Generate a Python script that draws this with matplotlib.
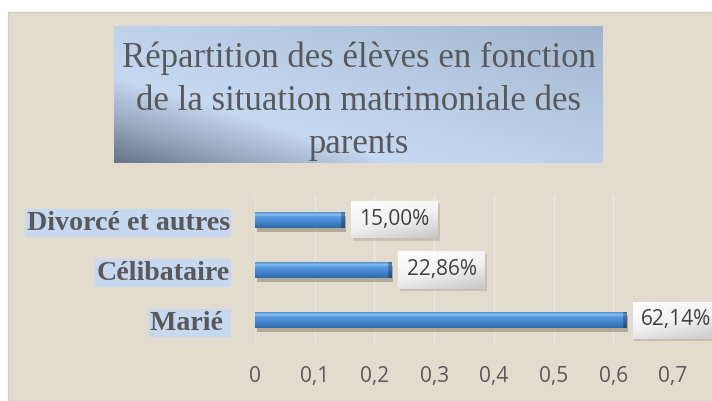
import numpy as np
import matplotlib.pyplot as plt
from matplotlib.colors import LinearSegmentedColormap
from matplotlib.patches import Rectangle

categories = ['Marié ', 'Célibataire', 'Divorcé et autres']
values = [0.6214, 0.2286, 0.15]
value_labels = ['62,14%', '22,86%', '15,00%']
xticks = [0, 0.1, 0.2, 0.3, 0.4, 0.5, 0.6, 0.7]
xtick_labels = ['0', '0,1', '0,2', '0,3', '0,4', '0,5', '0,6', '0,7']
title = 'Répartition des élèves en fonction\nde la situation matrimoniale des\nparents'

W, H = 712, 401
fig = plt.figure(figsize=(W / 100, H / 100), dpi=100)
fig.patch.set_facecolor('white')

# fond beige avec bordure
fig.patches.append(Rectangle((8 / W, 0), 1, 1 - 12 / H, transform=fig.transFigure,
                             facecolor='#e2dccf', edgecolor='#cfcfcf', lw=1, zorder=-1))

# boite du titre en degrade
tax = fig.add_axes([114 / W, 1 - 163 / H, (603 - 114) / W, (163 - 26) / H])
u, v = np.meshgrid(np.linspace(0, 1, 240), np.linspace(1, 0, 100))
s = 1.1 * u + v
title_cmap = LinearSegmentedColormap.from_list('t', [
    (0.0, '#66748a'), (0.14, '#95a6bd'), (0.3, '#c6d9f2'), (0.6, '#b8cce6'), (1.0, '#a2b5ce')])
tax.imshow(s / s.max(), cmap=title_cmap, extent=[0, 1, 0, 1], aspect='auto')
tax.text(0.5, 0.45, title, ha='center', va='center', fontsize=25,
         family='Liberation Serif', color='#595959', linespacing=1.4)
tax.axis('off')

# graphique
ax = fig.add_axes([255 / W, 1 - 345 / H, (673 - 255) / W, 150 / H])
ax.patch.set_alpha(0)
y = np.arange(len(categories))
bh = 0.32

ax.barh(y - 0.07, values, height=bh, left=0.003, color='#8a8070', alpha=0.55, zorder=2)
bars = ax.barh(y, values, height=bh, color='#4a8ad2', zorder=3)

bar_cmap = LinearSegmentedColormap.from_list('b', [
    (0.0, '#2f6aa8'), (0.35, '#4283cc'), (0.7, '#5a9be0'), (0.85, '#8cc0f0'), (1.0, '#4a88cc')])
px_per_unit = (673 - 255) / 0.7
for b in bars:
    x0, y0, w, h = b.get_x(), b.get_y(), b.get_width(), b.get_height()
    cols = 300
    grad = np.tile(np.linspace(0, 1, 60)[::-1, None], (1, cols))
    rgba = bar_cmap(grad)
    tip = max(1, int(cols * 4 / (w * px_per_unit)))
    rgba[:, -tip:, :3] *= 0.72
    im = ax.imshow(rgba, extent=[x0, x0 + w, y0, y0 + h], aspect='auto', zorder=3.5)
    im.set_clip_path(b)

# etiquettes de donnees
box_cmap = LinearSegmentedColormap.from_list('w', ['#ffffff', '#f2f2f2', '#c8c8c8'])
bw = 87 / px_per_unit
bhh = 0.74
for yi, val, lab in zip(y, values, value_labels):
    bx = val + 0.011
    g = np.add.outer(np.linspace(0, 1, 40), np.linspace(0, 0.5, 80)) / 1.5
    ax.add_patch(Rectangle((bx + 0.003, yi - bhh / 2 - 0.05), bw, bhh, facecolor='#a09888',
                           alpha=0.4, edgecolor='none', zorder=3.8, clip_on=False))
    ax.imshow(g, cmap=box_cmap, extent=[bx, bx + bw, yi - bhh / 2, yi + bhh / 2],
              aspect='auto', zorder=4, clip_on=False)
    ax.text(bx + bw / 2, yi, lab, ha='center', va='center', fontsize=15,
            family='Open Sans', color='#404040', zorder=5, clip_on=False)

ax.set_xlim(0, 0.7)
ax.set_ylim(-0.5, 2.5)
ax.set_xticks(xticks, xtick_labels)
ax.set_yticks(y, categories)
ax.tick_params(axis='x', length=0, pad=15, labelsize=15, labelcolor='#595959')
ax.tick_params(axis='y', length=0, pad=18)
for t in ax.get_xticklabels():
    t.set_family('Open Sans')
for t in ax.get_yticklabels():
    t.set_family('Liberation Serif')
    t.set_fontweight('bold')
    t.set_fontsize(20.2)
    t.set_color('#595959')
    t.set_bbox(dict(boxstyle='square,pad=0.05', facecolor='#c6d9f0', edgecolor='none'))

ax.grid(axis='x', color='#ebe8e2', lw=1, zorder=1)
ax.set_axisbelow(True)
for sp in ['top', 'right', 'bottom']:
    ax.spines[sp].set_visible(False)
ax.spines['left'].set_color('#e6e3de')

fig.savefig('out.png', dpi=100)
